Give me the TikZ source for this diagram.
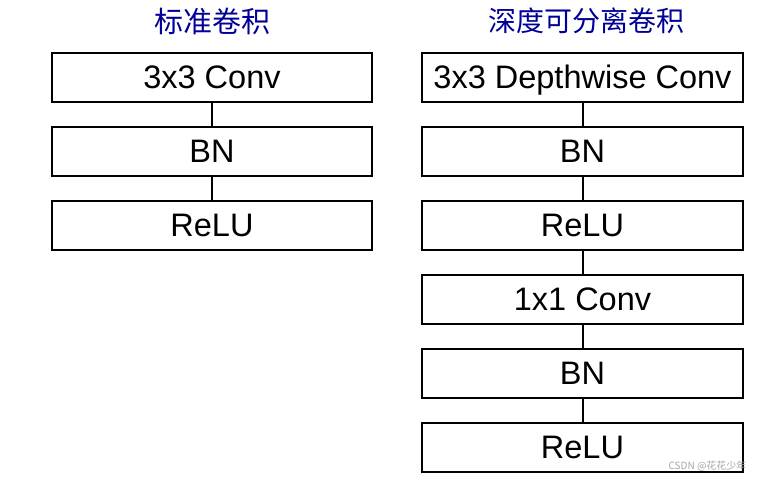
\documentclass[tikz,border=0pt]{standalone}
\usepackage{fontspec}
\setmainfont{Liberation Sans}
\newfontfamily\cjk{Noto Sans CJK SC}
\begin{document}
\begin{tikzpicture}[x=1pt,y=-1pt,
  layer/.style={draw=black,line width=2pt,minimum width=320pt,minimum height=49pt,inner sep=0pt,text height=23pt,text depth=0pt,font=\fontsize{32.5}{36}\selectfont},
  link/.style={line width=2pt},
  title/.style={text=blue!60!black,font=\cjk\fontsize{29}{32}\selectfont}]
\useasboundingbox (0,0) rectangle (762,479);
\fill[white] (0,0) rectangle (762,479);
\node[title] (t1) at (212,21) {标准卷积};
\node[title,font=\cjk\fontsize{28}{32}\selectfont] (t2) at (586,21) {深度可分离卷积};
% left column
\node[layer] (l1) at (212,77) {3x3 Conv};
\node[layer] (l2) at (212,151) {BN};
\node[layer] (l3) at (212,225) {ReLU};
\draw[link] (l1) -- (l2);
\draw[link] (l2) -- (l3);
% right column
\node[layer,minimum width=321pt] (r1) at (582.5,77) {3x3 Depthwise Conv};
\node[layer,minimum width=321pt] (r2) at (582.5,151) {BN};
\node[layer,minimum width=321pt] (r3) at (582.5,225) {ReLU};
\node[layer,minimum width=321pt] (r4) at (582.5,299) {1x1 Conv};
\node[layer,minimum width=321pt] (r5) at (582.5,373) {BN};
\node[layer,minimum width=321pt] (r6) at (582.5,447) {ReLU};
\draw[link] (r1) -- (r2);
\draw[link] (r2) -- (r3);
\draw[link] (r3) -- (r4);
\draw[link] (r4) -- (r5);
\draw[link] (r5) -- (r6);
\node[text=black!35,font=\cjk\fontsize{10}{11}\selectfont,anchor=east] (wm) at (750,466) {CSDN @花花少年};
\end{tikzpicture}
\end{document}
